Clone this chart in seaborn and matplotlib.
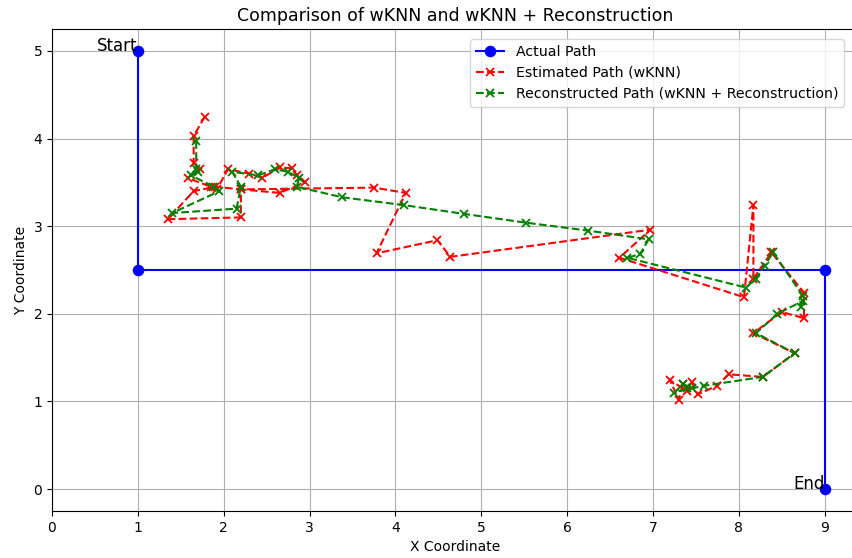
import matplotlib
matplotlib.use("Agg")
import matplotlib.pyplot as plt
import seaborn as sns
import pandas as pd

# Actual path
actual_x = [1, 1, 9, 9]
actual_y = [5, 2.5, 2.5, 0]

# Estimated path (wKNN)
est_x = [1.78, 1.65, 1.65, 1.72, 1.58, 1.85, 1.92, 2.05, 2.30, 2.45, 2.65, 2.80, 2.85, 2.95,
         2.65, 2.20, 2.20, 1.35, 1.65, 1.90, 2.20, 3.75, 4.12, 3.78, 4.49, 4.64, 6.97,
         6.61, 8.06, 8.17, 8.17, 8.38, 8.76, 8.76, 8.50, 8.17, 8.65, 8.28, 7.88, 7.75,
         7.52, 7.45, 7.40, 7.20, 7.30, 7.35]
est_y = [4.25, 4.03, 3.72, 3.65, 3.55, 3.45, 3.42, 3.65, 3.60, 3.55, 3.67, 3.66, 3.58, 3.50,
         3.38, 3.42, 3.10, 3.08, 3.40, 3.45, 3.42, 3.44, 3.38, 2.69, 2.84, 2.65, 2.96,
         2.64, 2.19, 3.24, 2.40, 2.70, 2.24, 1.95, 2.02, 1.78, 1.55, 1.28, 1.31, 1.18,
         1.08, 1.22, 1.12, 1.24, 1.02, 1.20]

# Reconstructed path (wKNN + Reconstruction)
rec_x = [1.68, 1.68, 1.70, 1.62, 1.88, 1.95, 1.40, 2.15, 2.20, 2.10, 2.40, 2.60, 2.75,
         2.88, 2.85, 3.38, 4.10, 4.80, 5.52, 6.24, 6.95, 6.85, 6.70, 8.08, 8.20, 8.30,
         8.40, 8.75, 8.72, 8.75, 8.45, 8.20, 8.65, 8.28, 7.60, 7.45, 7.35, 7.25, 7.40]
rec_y = [3.97, 3.65, 3.62, 3.58, 3.45, 3.40, 3.15, 3.20, 3.45, 3.62, 3.58, 3.65, 3.62,
         3.55, 3.45, 3.33, 3.24, 3.14, 3.04, 2.95, 2.85, 2.68, 2.64, 2.30, 2.40, 2.55,
         2.70, 2.20, 2.08, 2.15, 2.00, 1.78, 1.55, 1.28, 1.18, 1.15, 1.20, 1.10, 1.15]

actual = pd.DataFrame({"x": actual_x, "y": actual_y})
est = pd.DataFrame({"x": est_x, "y": est_y})
rec = pd.DataFrame({"x": rec_x, "y": rec_y})

fig = plt.figure(figsize=(8.52, 5.58), dpi=100)
# the reference is cropped on the right, so the axes run past the figure edge
ax = fig.add_axes([52 / 852, 47 / 558, 807 / 852, 482 / 558])


def style_last(ax, color, marker, ls, ms):
    line = ax.lines[-1]
    line.set_marker(marker)
    line.set_markersize(ms)
    line.set_markeredgecolor(color)
    line.set_markerfacecolor(color)
    line.set_markeredgewidth(1.3)
    line.set_linestyle(ls)
    return line


sns.lineplot(data=actual, x="x", y="y", sort=False, estimator=None, ax=ax,
             color="blue", label="Actual Path")
h1 = style_last(ax, "blue", "o", "-", 7)

sns.lineplot(data=est, x="x", y="y", sort=False, estimator=None, ax=ax,
             color="red", label="Estimated Path (wKNN)")
h2 = style_last(ax, "red", "x", "--", 6)

sns.lineplot(data=rec, x="x", y="y", sort=False, estimator=None, ax=ax,
             color="green", label="Reconstructed Path (wKNN + Reconstruction)")
h3 = style_last(ax, "green", "x", "--", 6)

ax.text(1, 5, "Start", fontsize=12, ha="right", va="baseline")
ax.text(9, 0, "End", fontsize=12, ha="right", va="baseline")

ax.set_title("Comparison of wKNN and wKNN + Reconstruction", fontsize=12.5)
ax.set_xlabel("X Coordinate")
ax.set_ylabel("Y Coordinate")
ax.set_xticks(range(0, 10))
ax.set_xlim(0, 9.4)
ax.set_ylim(-0.25, 5.25)
ax.grid(True)

# rebuild legend so handles show the markers and dashes
handles = [h1, h2, h3]
ax.legend(handles, [h.get_label() for h in handles], loc="upper right",
          fontsize=10.2, bbox_to_anchor=((851 - 52) / 807, 1.0 - 3 / 482),
          bbox_transform=ax.transAxes)

plt.savefig("out.png", dpi=100)
plt.close()
